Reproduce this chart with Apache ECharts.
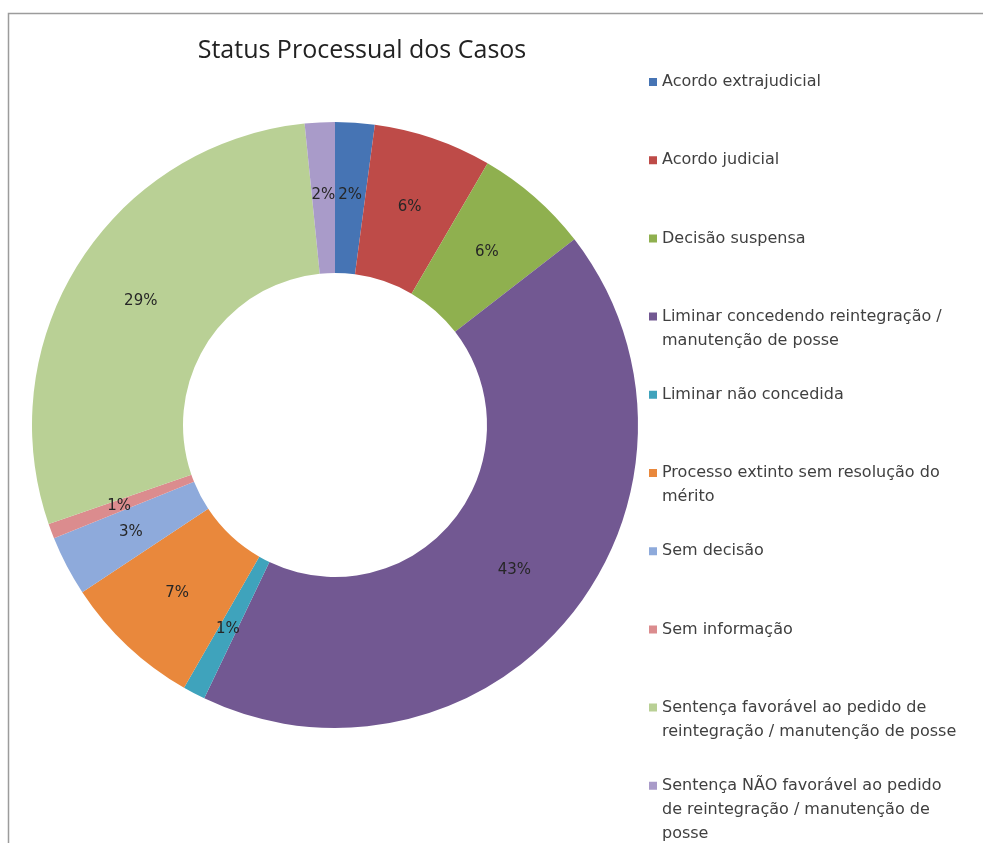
<!DOCTYPE html>
<html>
<head>
<meta charset="utf-8">
<script src="https://cdn.jsdelivr.net/npm/echarts@6/dist/echarts.min.js"></script>
<style>
html,body{margin:0;padding:0;background:#fff;}
#chart{width:983px;height:843px;}
</style>
</head>
<body>
<div id="chart"></div>
<script>
// ---- Data ----
const chartTitle = 'Status Processual dos Casos';
const categories = [
  'Acordo extrajudicial',
  'Acordo judicial',
  'Decisão suspensa',
  'Liminar concedendo reintegração / manutenção de posse',
  'Liminar não concedida',
  'Processo extinto sem resolução do mérito',
  'Sem decisão',
  'Sem informação',
  'Sentença favorável ao pedido de reintegração / manutenção de posse',
  'Sentença NÃO favorável ao pedido de reintegração / manutenção de posse'
];
const legendLabels = [
  'Acordo extrajudicial',
  'Acordo judicial',
  'Decisão suspensa',
  'Liminar concedendo reintegração /\nmanutenção de posse',
  'Liminar não concedida',
  'Processo extinto sem resolução do\nmérito',
  'Sem decisão',
  'Sem informação',
  'Sentença favorável ao pedido de\nreintegração / manutenção de posse',
  'Sentença NÃO favorável ao pedido\nde reintegração / manutenção de\nposse'
];
const shareValues = [2.1, 6.3, 6.1, 42.6, 1.2, 7.4, 3.2, 0.8, 28.7, 1.6];
const sliceColors = ['#4674B4', '#BE4B48', '#8FB04F', '#725892', '#3FA3BC',
                     '#E9883C', '#8EAADB', '#DB8C8E', '#B9D095', '#A99BC9'];

// ---- Layout constants ----
const LEGEND_LEFT = 649;
const LEGEND_FIRST_Y = 82;
const LEGEND_STEP = 78.2;
const LINE_H = 24;
const ICON = 8;
const FONT = "'DejaVu Sans', 'Open Sans', sans-serif";

const chart = echarts.init(document.getElementById('chart'), null, {renderer: 'canvas'});

// icon: a square centred on the first text line; tiny degenerate segments at the
// corners stretch the path's bounding box to the full height of the text block
function iconPath(h) {
  const y0 = LINE_H / 2 - ICON / 2, y1 = y0 + ICON;
  return 'path://M0,0L0.001,0M0,' + y0 + 'L' + ICON + ',' + y0 + 'L' + ICON + ',' + y1 +
         'L0,' + y1 + 'ZM' + ICON + ',' + h + 'L' + (ICON - 0.001) + ',' + h;
}

const legends = categories.map((name, i) => {
  const lines = legendLabels[i].split('\n').length;
  const h = lines * LINE_H;
  const yc = LEGEND_FIRST_Y + LEGEND_STEP * i;
  return {
    data: [name],
    orient: 'vertical',
    left: LEGEND_LEFT,
    top: yc - LINE_H / 2,
    padding: 0,
    icon: iconPath(h),
    itemWidth: ICON,
    itemHeight: h,
    itemGap: 0,
    itemStyle: {borderWidth: 0},
    formatter: () => legendLabels[i],
    textStyle: {
      fontFamily: FONT,
      fontSize: 16,
      color: '#404040',
      lineHeight: LINE_H
    },
    selectedMode: false
  };
});

chart.setOption({
  animation: false,
  backgroundColor: '#ffffff',
  color: sliceColors,
  title: {
    text: chartTitle,
    left: 357,
    top: 33,
    textAlign: 'center',
    textStyle: {
      fontFamily: "'Open Sans', sans-serif",
      fontSize: 25,
      fontWeight: 'normal',
      color: '#222222'
    }
  },
  graphic: [{
    type: 'rect',
    silent: true,
    shape: {x: 8.5, y: 13.5, width: 1000, height: 900},
    style: {fill: 'none', stroke: '#9c9c9c', lineWidth: 1.5}
  }],
  legend: legends,
  series: [{
    type: 'pie',
    center: [335, 425],
    radius: [152, 303],
    startAngle: 90,
    clockwise: true,
    avoidLabelOverlap: false,
    silent: true,
    itemStyle: {borderWidth: 0},
    label: {
      show: true,
      position: 'inside',
      fontFamily: FONT,
      fontSize: 15,
      color: '#262626',
      formatter: p => Math.round(p.percent) + '%'
    },
    labelLine: {show: false},
    data: categories.map((name, i) => ({name: name, value: shareValues[i]}))
  }]
});
</script>
</body>
</html>
